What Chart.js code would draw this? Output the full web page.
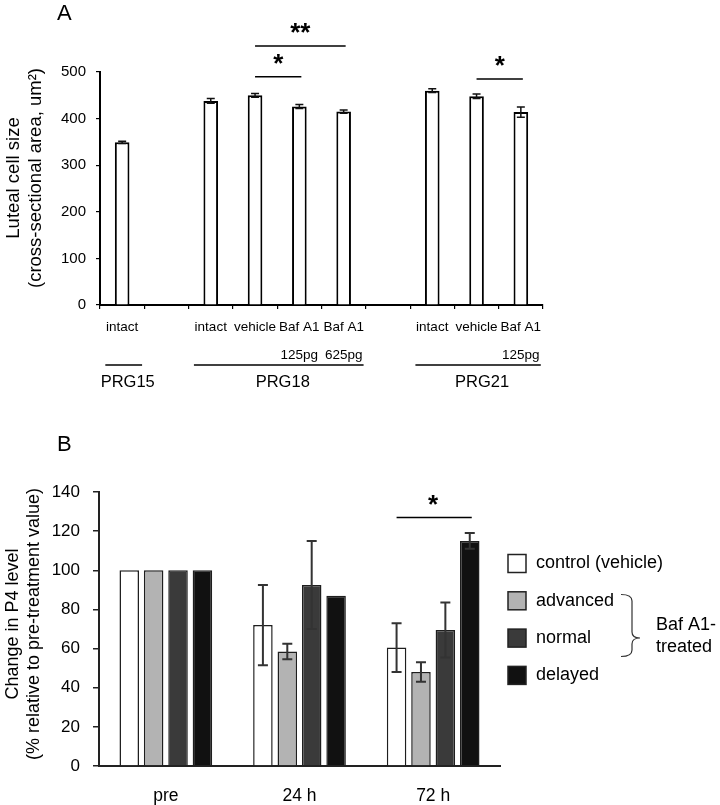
<!DOCTYPE html>
<html>
<head>
<meta charset="utf-8">
<script src="https://cdn.jsdelivr.net/npm/chart.js@4.4.1/dist/chart.umd.min.js"></script>
<style>
  html, body { margin: 0; padding: 0; background: #fff; }
  #wrap { position: relative; width: 720px; height: 805px; }
  canvas { position: absolute; left: 0; }
  #chartA { top: 0; }
  #chartB { top: 400px; }
</style>
</head>
<body>
<div id="wrap">
  <canvas id="chartA" width="720" height="400"></canvas>
  <canvas id="chartB" width="720" height="405"></canvas>
</div>
<script>
// ---- panel A: luteal cell size ----
const labelsA = [["intact"], "", ["intact"], ["vehicle"], ["Baf A1", "125pg"], ["Baf A1", "625pg"], "", ["intact"], ["vehicle"], ["Baf A1", "125pg"]];
const valuesA = [349, null, 438, 450, 426, 415, null, 460, 448, 414];
const errorsA = [2.5, null, 5, 4, 4.5, 3.5, null, 4, 5, 11];
const yTicksA = [0, 100, 200, 300, 400, 500];
const groupNamesA = ["PRG15", "PRG18", "PRG21"];
const groupFromA = [0, 2, 7];
const groupToA = [0, 5, 9];
const sigFromA = [3, 3, 8];
const sigToA = [5, 4, 9];
const sigLevelA = [556, 490, 485];
const sigMarkA = ["**", "*", "*"];

// ---- panel B: P4 change ----
const groupsB = ["pre", "24 h", "72 h"];
const seriesNamesB = ["control (vehicle)", "advanced", "normal", "delayed"];
const controlB = [100, 72, 60.5];
const advancedB = [100, 58.5, 48];
const normalB = [100, 92.5, 69.5];
const delayedB = [100, 87, 115];
const errControlB = [null, 20.5, 12.5];
const errAdvancedB = [null, 4, 5];
const errNormalB = [null, 22.5, 14];
const errDelayedB = [null, null, 4];
const yTicksB = [0, 20, 40, 60, 80, 100, 120, 140];

const FONT = '"Liberation Sans", Arial, sans-serif';
Chart.defaults.font.family = FONT;
Chart.defaults.color = '#000';

const errorBars = {
  id: 'errorBars',
  afterDatasetsDraw(chart, args, opts) {
    const ctx = chart.ctx, y = chart.scales.y;
    ctx.save();
    ctx.strokeStyle = opts.color;
    ctx.lineWidth = opts.width;
    chart.data.datasets.forEach((ds, i) => {
      if (!ds.errors) return;
      chart.getDatasetMeta(i).data.forEach((bar, j) => {
        const v = ds.data[j], e = ds.errors[j];
        if (v == null || e == null) return;
        const x = bar.x;
        const top = y.getPixelForValue(v + e), bot = y.getPixelForValue(v - e);
        ctx.beginPath();
        ctx.moveTo(x, top); ctx.lineTo(x, bot);
        ctx.moveTo(x - opts.cap, top); ctx.lineTo(x + opts.cap, top);
        ctx.moveTo(x - opts.cap, bot); ctx.lineTo(x + opts.cap, bot);
        ctx.stroke();
      });
    });
    ctx.restore();
  }
};

function yTitle(ctx, lines, xs, cy, size) {
  ctx.save();
  ctx.fillStyle = '#000';
  ctx.font = size + 'px ' + FONT;
  ctx.textAlign = 'center';
  ctx.textBaseline = 'middle';
  lines.forEach((t, i) => {
    ctx.save();
    ctx.translate(xs[i], cy);
    ctx.rotate(-Math.PI / 2);
    ctx.fillText(t, 0, 0);
    ctx.restore();
  });
  ctx.restore();
}

// asterisk centred about 14px above the bar line
function star(ctx, mark, x, lineY) {
  const size = 26;
  ctx.font = 'bold ' + size + 'px ' + FONT;
  ctx.textAlign = 'center';
  ctx.textBaseline = 'alphabetic';
  ctx.fillText(mark, x, lineY - 14 + 0.36 * size);
}

const decorA = {
  id: 'decorA',
  afterDraw(chart) {
    const ctx = chart.ctx, x = chart.scales.x, y = chart.scales.y;
    const slot = x.getPixelForValue(1) - x.getPixelForValue(0);
    ctx.save();
    ctx.fillStyle = '#000';
    ctx.strokeStyle = '#000';
    ctx.font = '22px ' + FONT;
    ctx.textAlign = 'left';
    ctx.textBaseline = 'middle';
    ctx.fillText('A', 57, 14);
    yTitle(ctx, ['Luteal cell size', '(cross-sectional area, um\u00B2)'], [14, 36], 178, 18.5);
    // group brackets under the labels
    ctx.lineWidth = 1.5;
    groupNamesA.forEach((name, i) => {
      const x1 = x.getPixelForValue(groupFromA[i]) - 0.38 * slot;
      const x2 = x.getPixelForValue(groupToA[i]) + 0.45 * slot;
      ctx.beginPath();
      ctx.moveTo(x1, 365); ctx.lineTo(x2, 365);
      ctx.stroke();
      ctx.font = '16.5px ' + FONT;
      ctx.textAlign = 'center';
      ctx.textBaseline = 'middle';
      ctx.fillText(name, (x1 + x2) / 2 + 4, 382);
    });
    // significance
    sigMarkA.forEach((m, i) => {
      const x1 = x.getPixelForValue(sigFromA[i]), x2 = x.getPixelForValue(sigToA[i]);
      const yy = y.getPixelForValue(sigLevelA[i]);
      ctx.lineWidth = 1.5;
      ctx.beginPath();
      ctx.moveTo(x1, yy); ctx.lineTo(x2 + 2, yy);
      ctx.stroke();
      star(ctx, m, (x1 + x2) / 2 + 1, yy);
    });
    ctx.restore();
  }
};

new Chart(document.getElementById('chartA'), {
  type: 'bar',
  data: {
    labels: labelsA,
    datasets: [{
      data: valuesA,
      errors: errorsA,
      backgroundColor: '#fff',
      borderColor: '#000',
      borderWidth: 2,
      barPercentage: 0.33,
      categoryPercentage: 1
    }]
  },
  options: {
    responsive: false,
    animation: false,
    events: [],
    devicePixelRatio: 1,
    layout: { padding: { left: 0, top: 72, right: 177, bottom: 0 } },
    scales: {
      x: {
        grid: { display: true, drawOnChartArea: false, drawTicks: true, tickLength: 4, color: '#000', lineWidth: 1.2, offset: true },
        border: { display: true, color: '#000', width: 2 },
        ticks: { color: '#000', font: { size: 13.5, lineHeight: 2.08 }, padding: 4, maxRotation: 0, minRotation: 0, autoSkip: false },
        afterFit(s) { s.height = 95; }
      },
      y: {
        min: 0, max: 500,
        afterBuildTicks(s) { s.ticks = yTicksA.map(v => ({ value: v })); },
        grid: { display: true, drawOnChartArea: false, drawTicks: true, tickLength: 4, color: '#000', lineWidth: 1.2 },
        border: { display: true, color: '#000', width: 2 },
        ticks: { color: '#000', font: { size: 15 }, padding: 10 },
        afterFit(s) { s.width = 100; }
      }
    },
    plugins: {
      legend: { display: false },
      tooltip: { enabled: false },
      errorBars: { color: '#111', width: 1.5, cap: 4 }
    }
  },
  plugins: [errorBars, decorA]
});

const decorB = {
  id: 'decorB',
  afterDraw(chart) {
    const ctx = chart.ctx, y = chart.scales.y;
    ctx.save();
    ctx.fillStyle = '#000';
    ctx.strokeStyle = '#000';
    ctx.font = '22px ' + FONT;
    ctx.textAlign = 'left';
    ctx.textBaseline = 'middle';
    ctx.fillText('B', 57, 45);
    yTitle(ctx, ['Change in P4 level', '(% relative to pre-treatment value)'], [13, 34], 224, 18);
    // significance between control and delayed at 72 h
    const x1 = chart.getDatasetMeta(0).data[2].x, x2 = chart.getDatasetMeta(3).data[2].x;
    const yy = y.getPixelForValue(127);
    ctx.lineWidth = 1.5;
    ctx.beginPath();
    ctx.moveTo(x1, yy); ctx.lineTo(x2 + 2, yy);
    ctx.stroke();
    star(ctx, '*', (x1 + x2) / 2, yy);
    // legend
    chart.data.datasets.forEach((ds, i) => {
      const cy = 163.5 + i * 37.3;
      ctx.fillStyle = ds.backgroundColor;
      ctx.fillRect(508, cy - 9, 18, 18);
      ctx.strokeStyle = '#222';
      ctx.lineWidth = 1.5;
      ctx.strokeRect(508, cy - 9, 18, 18);
      ctx.fillStyle = '#000';
      ctx.font = '18px ' + FONT;
      ctx.textAlign = 'left';
      ctx.textBaseline = 'middle';
      ctx.fillText(ds.label, 536, cy);
    });
    // brace for Baf A1-treated groups
    ctx.strokeStyle = '#333';
    ctx.lineWidth = 1.2;
    ctx.beginPath();
    ctx.moveTo(621, 194.5);
    ctx.quadraticCurveTo(632, 194.5, 632, 201);
    ctx.lineTo(632, 232);
    ctx.quadraticCurveTo(632, 238, 640, 238);
    ctx.quadraticCurveTo(632, 238, 632, 244);
    ctx.lineTo(632, 250);
    ctx.quadraticCurveTo(632, 256.5, 621, 256.5);
    ctx.stroke();
    ctx.fillStyle = '#000';
    ctx.font = '18px ' + FONT;
    ctx.fillText('Baf A1-', 656, 225);
    ctx.fillText('treated', 656, 247);
    ctx.restore();
  }
};

const fillsB = ['#ffffff', '#b3b3b3', '#3a3a3a', '#111111'];
const seriesB = [controlB, advancedB, normalB, delayedB];
const errsB = [errControlB, errAdvancedB, errNormalB, errDelayedB];

new Chart(document.getElementById('chartB'), {
  type: 'bar',
  data: {
    labels: groupsB,
    datasets: seriesB.map((d, i) => ({
      label: seriesNamesB[i],
      data: d,
      errors: errsB[i],
      backgroundColor: fillsB[i],
      borderColor: '#1e1e1e',
      borderWidth: 1.5,
      barPercentage: 0.8,
      categoryPercentage: 0.73
    }))
  },
  options: {
    responsive: false,
    animation: false,
    events: [],
    devicePixelRatio: 1,
    layout: { padding: { left: 0, top: 92, right: 220, bottom: 0 } },
    scales: {
      x: {
        grid: { display: false },
        border: { display: true, color: '#222', width: 2 },
        ticks: { color: '#000', font: { size: 17.5 }, padding: 12 },
        afterFit(s) { s.height = 39; }
      },
      y: {
        min: 0, max: 140,
        afterBuildTicks(s) { s.ticks = yTicksB.map(v => ({ value: v })); },
        grid: { display: true, drawOnChartArea: false, drawTicks: true, tickLength: 6, color: '#222', lineWidth: 1.5 },
        border: { display: true, color: '#222', width: 2 },
        ticks: { color: '#000', font: { size: 17 }, padding: 13 },
        afterFit(s) { s.width = 99; }
      }
    },
    plugins: {
      legend: { display: false },
      tooltip: { enabled: false },
      errorBars: { color: '#333', width: 2, cap: 5 }
    }
  },
  plugins: [errorBars, decorB]
});
</script>
</body>
</html>
